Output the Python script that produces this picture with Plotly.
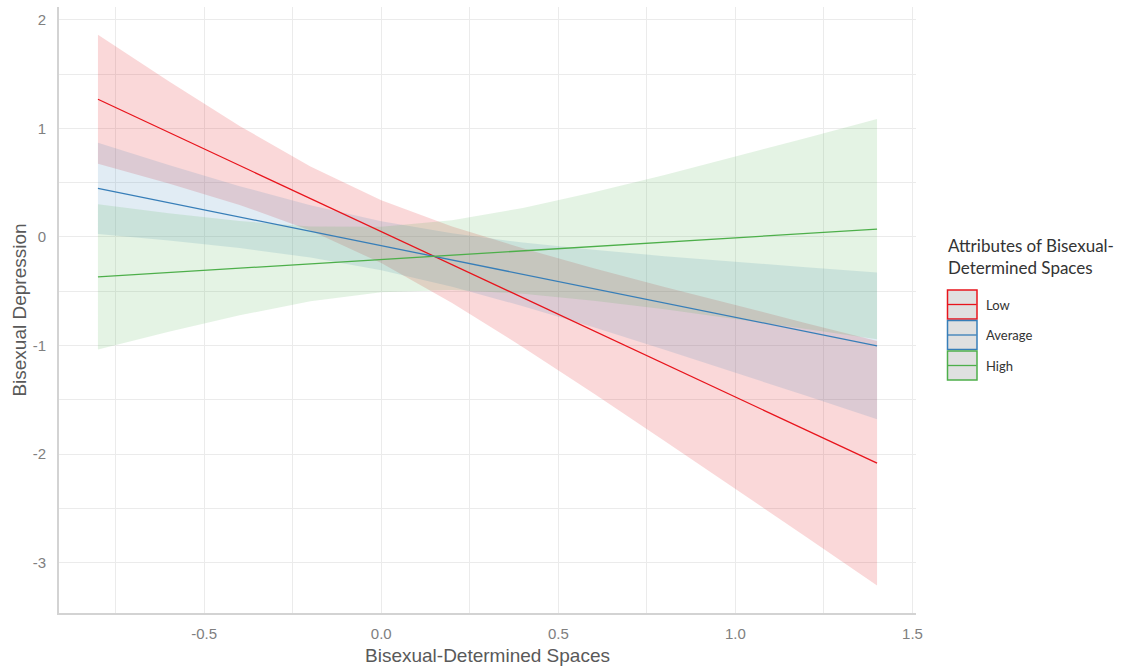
import plotly.graph_objects as go

# ---- data ----
x_vals = [-0.8, -0.6, -0.4, -0.2, 0.0, 0.2, 0.4, 0.6, 0.8, 1.0, 1.2, 1.4]

low_fit = [1.268, 0.963, 0.659, 0.354, 0.049, -0.256, -0.560, -0.865, -1.170, -1.475, -1.779, -2.084]
low_upper = [1.862, 1.433, 1.023, 0.649, 0.339, 0.096, -0.105, -0.288, -0.461, -0.630, -0.794, -0.958]
low_lower = [0.674, 0.493, 0.295, 0.059, -0.241, -0.608, -1.015, -1.442, -1.879, -2.320, -2.764, -3.210]

avg_fit = [0.447, 0.315, 0.183, 0.051, -0.081, -0.213, -0.345, -0.476, -0.608, -0.740, -0.872, -1.004]
avg_upper = [0.867, 0.663, 0.468, 0.292, 0.145, 0.033, -0.052, -0.119, -0.177, -0.230, -0.280, -0.328]
avg_lower = [0.027, -0.033, -0.102, -0.190, -0.307, -0.459, -0.638, -0.833, -1.039, -1.250, -1.464, -1.680]

high_fit = [-0.368, -0.328, -0.288, -0.248, -0.208, -0.168, -0.128, -0.088, -0.048, -0.008, 0.032, 0.072]
high_upper = [0.301, 0.218, 0.146, 0.097, 0.093, 0.153, 0.267, 0.411, 0.571, 0.738, 0.911, 1.086]
high_lower = [-1.037, -0.874, -0.722, -0.593, -0.509, -0.489, -0.523, -0.587, -0.667, -0.754, -0.847, -0.942]

group_names = ["Low", "Average", "High"]
x_ticks = [-0.5, 0.0, 0.5, 1.0, 1.5]
x_tick_text = ["-0.5", "0.0", "0.5", "1.0", "1.5"]
y_ticks = [-3, -2, -1, 0, 1, 2]
y_tick_text = ["-3", "-2", "-1", "0", "1", "2"]

# ---- styles ----
line_colors = ["#E8141C", "#377EB8", "#4DAF4A"]
fill_colors = ["rgba(228,26,28,0.17)", "rgba(55,126,184,0.15)", "rgba(77,175,74,0.15)"]

series = [
    (low_fit, low_upper, low_lower),
    (avg_fit, avg_upper, avg_lower),
    (high_fit, high_upper, high_lower),
]

fig = go.Figure()

for (fit, up, lo), fc in zip(series, fill_colors):
    fig.add_trace(go.Scatter(
        x=x_vals + x_vals[::-1],
        y=up + lo[::-1],
        fill="toself", fillcolor=fc,
        line=dict(width=0), mode="lines",
        hoverinfo="skip", showlegend=False,
    ))

for (fit, up, lo), lc, name in zip(series, line_colors, group_names):
    fig.add_trace(go.Scatter(
        x=x_vals, y=fit, mode="lines", name=name,
        line=dict(color=lc, width=1.3), showlegend=False,
    ))

W, H = 1147, 666
L, R, T, B = 59, 916, 7, 613


def px2paper_x(px):
    return (px - L) / (R - L)


def px2paper_y(py):
    return (B - py) / (B - T)


# manual legend (ggplot style keys)
legend_font = "Lato, 'Open Sans', sans-serif"
shapes = []
annotations = []
annotations.append(dict(
    x=px2paper_x(946), y=px2paper_y(233), xref="paper", yref="paper",
    xanchor="left", yanchor="top", align="left", showarrow=False,
    text="Attributes of Bisexual-<br>Determined Spaces",
    font=dict(family=legend_font, size=17, color="#333333"),
))
box_top = 290
box_h = 30.5
for i, (name, lc) in enumerate(zip(group_names, line_colors)):
    y0 = box_top + i * box_h
    y1 = y0 + 29
    shapes.append(dict(
        type="rect", xref="paper", yref="paper",
        x0=px2paper_x(947.5), x1=px2paper_x(977), y0=px2paper_y(y1), y1=px2paper_y(y0),
        fillcolor="#E0E0E0", line=dict(color=lc, width=1.5), layer="above",
    ))
    shapes.append(dict(
        type="line", xref="paper", yref="paper",
        x0=px2paper_x(948), x1=px2paper_x(976.5),
        y0=px2paper_y((y0 + y1) / 2), y1=px2paper_y((y0 + y1) / 2),
        line=dict(color=lc, width=1.3), layer="above",
    ))
    annotations.append(dict(
        x=px2paper_x(984), y=px2paper_y((y0 + y1) / 2), xref="paper", yref="paper",
        xanchor="left", yanchor="middle", showarrow=False, text=name,
        font=dict(family=legend_font, size=13, color="#333333"),
    ))

axis_font = "Liberation Sans, Arial, sans-serif"
grid_c = "#EBEBEB"

fig.update_layout(
    width=W, height=H,
    margin=dict(l=L, r=W - R, t=T, b=H - B, autoexpand=False),
    paper_bgcolor="white", plot_bgcolor="white",
    showlegend=False,
    shapes=shapes, annotations=annotations,
    xaxis=dict(
        range=[-0.91, 1.51], tickvals=x_ticks, ticktext=x_tick_text,
        showgrid=True, gridcolor=grid_c, gridwidth=1.2,
        minor=dict(dtick=0.25, tick0=0, showgrid=True, gridcolor=grid_c, gridwidth=1.2),
        zeroline=False, showline=True, linecolor="#D3D3D3", linewidth=2,
        ticks="", ticklabelstandoff=6,
        tickfont=dict(family=axis_font, size=15, color="#808080"),
        title=dict(text="Bisexual-Determined Spaces", standoff=8,
                   font=dict(family=axis_font, size=19, color="#595959")),
    ),
    yaxis=dict(
        range=[-3.464, 2.118], tickvals=y_ticks, ticktext=y_tick_text,
        showgrid=True, gridcolor=grid_c, gridwidth=1.2,
        minor=dict(dtick=0.5, tick0=0, showgrid=True, gridcolor=grid_c, gridwidth=1.2),
        zeroline=False, showline=True, linecolor="#D3D3D3", linewidth=2,
        ticks="", ticklabelstandoff=8,
        tickfont=dict(family=axis_font, size=15, color="#808080"),
        title=dict(text="Bisexual Depression", standoff=1,
                   font=dict(family=axis_font, size=19, color="#595959")),
    ),
)

fig.write_html("out.html")
